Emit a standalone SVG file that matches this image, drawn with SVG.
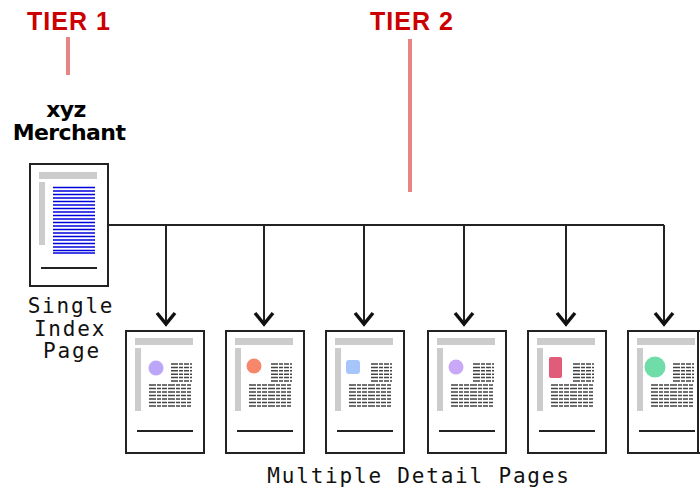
<svg xmlns="http://www.w3.org/2000/svg" xmlns:xlink="http://www.w3.org/1999/xlink" width="700" height="488" viewBox="0 0 700 488">
  <style>
    .tier { font-family: "Liberation Sans", Arial, sans-serif; font-weight: bold; font-size: 25px; fill: #cc0000; letter-spacing: 1px; }
    .tier-bar { stroke: #e88484; stroke-width: 4; }
    .title { font-family: "DejaVu Sans", Verdana, sans-serif; font-weight: bold; font-size: 22px; fill: #000; letter-spacing: -0.6px; }
    .mono { font-family: "DejaVu Sans Mono", "Liberation Mono", monospace; font-size: 21px; fill: #111; letter-spacing: 1.8px; }
    .frame { fill: #fff; stroke: #222; stroke-width: 2; }
    .gray { fill: #cccccc; }
    .rule { stroke: #222; stroke-width: 2; }
    .blue { stroke: #0000dd; stroke-width: 1.6; }
    .txt { stroke: #444; stroke-width: 1.5; stroke-dasharray: 7 1 4 1 5 1; }
    .wire { fill: none; stroke: #222; stroke-width: 2; }
    .head { fill: none; stroke: #111; stroke-width: 3.5; stroke-linejoin: miter; }
  </style>
  <defs>
    <!-- shared body of a detail page: frame, header bar, sidebar, copy lines, footer rule -->
    <g id="detail-frame">
      <rect class="frame" x="1" y="1" width="78" height="122"/>
      <rect class="gray" x="10" y="8" width="58" height="7"/>
      <rect class="gray" x="10" y="18" width="6" height="63"/>
      <g class="txt">
        <line x1="46" y1="34" x2="67" y2="34"/>
        <line x1="46" y1="37.4" x2="67" y2="37.4"/>
        <line x1="46" y1="40.8" x2="67" y2="40.8"/>
        <line x1="46" y1="44.2" x2="67" y2="44.2"/>
        <line x1="46" y1="47.6" x2="67" y2="47.6"/>
        <line x1="46" y1="51" x2="67" y2="51"/>
        <line x1="24" y1="55" x2="66" y2="55"/>
        <line x1="24" y1="58.5" x2="66" y2="58.5"/>
        <line x1="24" y1="62" x2="66" y2="62"/>
        <line x1="24" y1="65.5" x2="66" y2="65.5"/>
        <line x1="24" y1="69" x2="66" y2="69"/>
        <line x1="24" y1="72.5" x2="66" y2="72.5"/>
        <line x1="24" y1="76" x2="66" y2="76"/>
      </g>
      <line class="rule" x1="12" y1="101" x2="68" y2="101"/>
    </g>
    <filter id="fuzz" x="-30%" y="-30%" width="160%" height="160%">
      <feGaussianBlur stdDeviation="0.6"/>
    </filter>
  </defs>

  <!-- tier headings -->
  <g id="tier-1">
    <text class="tier" x="69" y="30" text-anchor="middle">TIER 1</text>
    <line class="tier-bar" x1="68" y1="37" x2="68" y2="75"/>
  </g>
  <g id="tier-2">
    <text class="tier" x="412" y="30" text-anchor="middle">TIER 2</text>
    <line class="tier-bar" x1="410" y1="39" x2="410" y2="192"/>
  </g>

  <!-- merchant index page -->
  <g id="index-page">
    <text class="title" x="66" y="117" text-anchor="middle">xyz</text>
    <text class="title" x="69" y="140" text-anchor="middle">Merchant</text>
    <rect class="frame" x="30" y="164" width="78" height="122"/>
    <rect class="gray" x="39" y="172" width="58" height="7"/>
    <rect class="gray" x="39" y="182" width="6" height="63"/>
    <g class="blue">
      <line x1="53" y1="187.5" x2="95" y2="187.5"/>
      <line x1="53" y1="191" x2="95" y2="191"/>
      <line x1="53" y1="194.5" x2="95" y2="194.5"/>
      <line x1="53" y1="198" x2="95" y2="198"/>
      <line x1="53" y1="201.5" x2="95" y2="201.5"/>
      <line x1="53" y1="205" x2="95" y2="205"/>
      <line x1="53" y1="208.5" x2="95" y2="208.5"/>
      <line x1="53" y1="212" x2="95" y2="212"/>
      <line x1="53" y1="215.5" x2="95" y2="215.5"/>
      <line x1="53" y1="219" x2="95" y2="219"/>
      <line x1="53" y1="222.5" x2="95" y2="222.5"/>
      <line x1="53" y1="226" x2="95" y2="226"/>
      <line x1="53" y1="229.5" x2="95" y2="229.5"/>
      <line x1="53" y1="233" x2="95" y2="233"/>
      <line x1="53" y1="236.5" x2="95" y2="236.5"/>
      <line x1="53" y1="240" x2="95" y2="240"/>
      <line x1="53" y1="243.5" x2="95" y2="243.5"/>
      <line x1="53" y1="247" x2="95" y2="247"/>
      <line x1="53" y1="250.5" x2="95" y2="250.5"/>
      <line x1="53" y1="253" x2="95" y2="253"/>
    </g>
    <line class="rule" x1="41" y1="268" x2="97" y2="268"/>
    <text class="mono" x="71" y="313" text-anchor="middle">Single</text>
    <text class="mono" x="70" y="336" text-anchor="middle">Index</text>
    <text class="mono" x="72" y="358" text-anchor="middle">Page</text>
  </g>

  <!-- connectors: trunk line and drops to each detail page -->
  <g id="connectors">
    <path class="wire" d="M108 225 H664 M166 225 V326 M264 225 V326 M364 225 V326 M464 225 V326 M566 225 V326 M664 225 V326"/>
    <g class="head">
      <polyline points="157,313 166,324 175,313"/>
      <polyline points="255,313 264,324 273,313"/>
      <polyline points="355,313 364,324 373,313"/>
      <polyline points="455,313 464,324 473,313"/>
      <polyline points="557,313 566,324 575,313"/>
      <polyline points="655,313 664,324 673,313"/>
    </g>
  </g>

  <!-- detail pages -->
  <g id="detail-1">
    <use xlink:href="#detail-frame" x="125" y="330"/>
    <circle cx="156" cy="368" r="7.5" fill="#bba6f7" filter="url(#fuzz)"/>
  </g>
  <g id="detail-2">
    <use xlink:href="#detail-frame" x="225" y="330"/>
    <circle cx="254" cy="366" r="7.5" fill="#f7876a" filter="url(#fuzz)"/>
  </g>
  <g id="detail-3">
    <use xlink:href="#detail-frame" x="325" y="330"/>
    <rect x="346" y="360" width="14" height="14" rx="3" fill="#a6c6fb" filter="url(#fuzz)"/>
  </g>
  <g id="detail-4">
    <use xlink:href="#detail-frame" x="427" y="330"/>
    <circle cx="456" cy="367" r="7.5" fill="#c9a8f7" filter="url(#fuzz)"/>
  </g>
  <g id="detail-5">
    <use xlink:href="#detail-frame" x="527" y="330"/>
    <rect x="549" y="357" width="13" height="21" rx="2" fill="#e05c78" filter="url(#fuzz)"/>
  </g>
  <g id="detail-6">
    <use xlink:href="#detail-frame" x="627" y="330"/>
    <rect x="628" y="331" width="70" height="122" style="fill:none; stroke:#222; stroke-width:2"/>
    <circle cx="655" cy="367" r="10.5" fill="#6fdca8" filter="url(#fuzz)"/>
  </g>

  <text id="detail-caption" class="mono" x="419" y="483" text-anchor="middle">Multiple Detail Pages</text>
</svg>
